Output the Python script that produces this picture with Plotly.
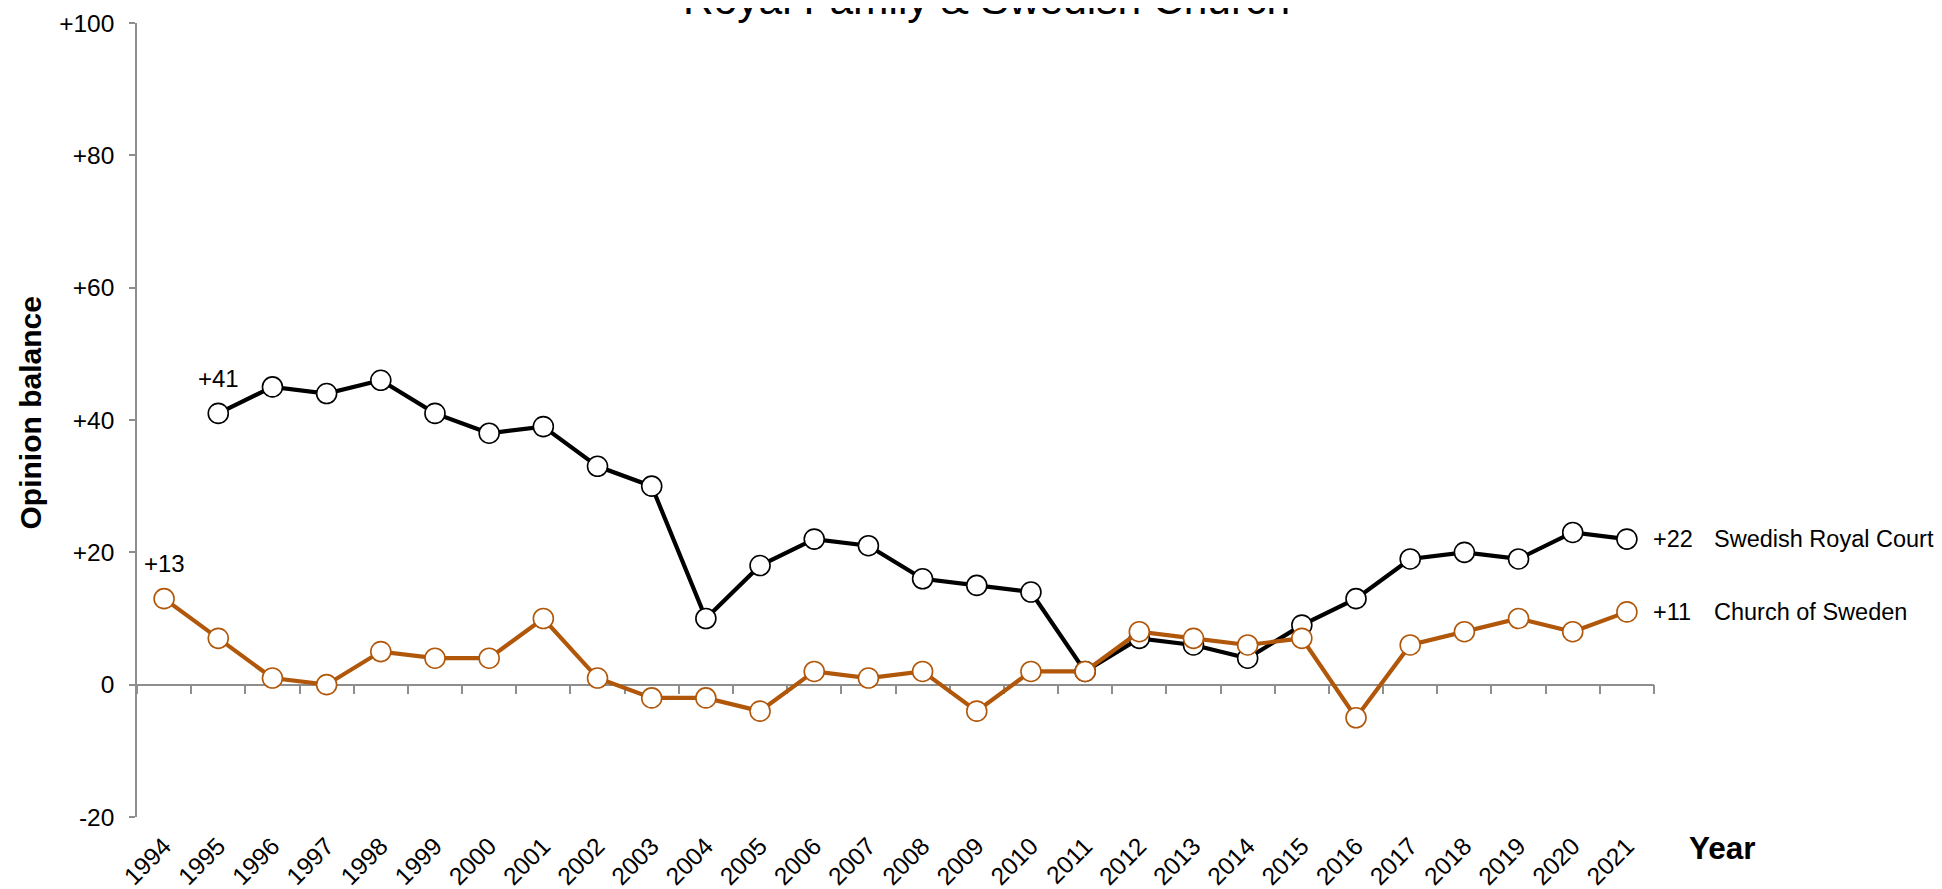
import plotly.graph_objects as go

# ---- data ----
years = [str(y) for y in range(1994, 2022)]
royal_years = [str(y) for y in range(1995, 2022)]
royal_court = [41, 45, 44, 46, 41, 38, 39, 33, 30, 10, 18, 22, 21, 16, 15, 14,
               2, 7, 6, 4, 9, 13, 19, 20, 19, 23, 22]
church_years = years
church = [13, 7, 1, 0, 5, 4, 4, 10, 1, -2, -2, -4, 2, 1, 2, -4, 2, 2,
          8, 7, 6, 7, -5, 6, 8, 10, 8, 11]
y_tickvals = [-20, 0, 20, 40, 60, 80, 100]
y_ticktext = ["-20", "0", "+20", "+40", "+60", "+80", "+100"]
series_names = ["Swedish Royal Court", "Church of Sweden"]
title_text = "Royal Family & Swedish Church"

BLACK = "#000000"
ORANGE = "#B1570A"
GRAY = "#8E8E8E"
FONT = "Arial, Liberation Sans, sans-serif"

def fmt(v):
    return f"+{v}" if v > 0 else str(v)

fig = go.Figure()

# invisible helper trace for the zero-line axis (category registration)
fig.add_trace(go.Scatter(x=years, y=church, xaxis="x2", mode="lines",
                         line=dict(width=0, color="rgba(0,0,0,0)"),
                         hoverinfo="skip", showlegend=False))

fig.add_trace(go.Scatter(
    x=royal_years, y=royal_court, mode="lines+markers", name=series_names[0],
    line=dict(color=BLACK, width=4.2),
    marker=dict(symbol="circle", size=20, color="white",
                line=dict(color=BLACK, width=1.6)),
    showlegend=False))

fig.add_trace(go.Scatter(
    x=church_years, y=church, mode="lines+markers", name=series_names[1],
    line=dict(color=ORANGE, width=4.2),
    marker=dict(symbol="circle", size=20, color="white",
                line=dict(color=ORANGE, width=1.6)),
    showlegend=False))

annotations = []
# first-point labels
for xs, ys in [(royal_years, royal_court), (church_years, church)]:
    annotations.append(dict(x=years.index(xs[0]), y=ys[0], xref="x", yref="y",
                            text=fmt(ys[0]), showarrow=False, yshift=35,
                            font=dict(family=FONT, size=24, color="black")))
# end labels
for xs, ys, nm in [(royal_years, royal_court, series_names[0]),
                   (church_years, church, series_names[1])]:
    xi = years.index(xs[-1])
    annotations.append(dict(x=xi, y=ys[-1], xref="x", yref="y", text=fmt(ys[-1]),
                            showarrow=False, xanchor="left", xshift=24,
                            font=dict(family=FONT, size=23.5, color="black")))
    annotations.append(dict(x=xi, y=ys[-1], xref="x", yref="y", text=nm,
                            showarrow=False, xanchor="left", xshift=85,
                            font=dict(family=FONT, size=23.5, color="black")))
# title
annotations.append(dict(x=0.5603, y=1.029, xref="paper", yref="paper", text=title_text,
                        showarrow=False, xanchor="center", yanchor="middle",
                        font=dict(family=FONT, size=42.5, color="black")))
# axis titles
annotations.append(dict(x=-0.0699, y=0.5094, xref="paper", yref="paper",
                        text="<b>Opinion balance</b>", textangle=-90, showarrow=False,
                        xanchor="center", yanchor="middle",
                        font=dict(family=FONT, size=30, color="black")))
annotations.append(dict(x=1.022, y=-0.039, xref="paper", yref="paper",
                        text="<b>Year</b>", showarrow=False,
                        xanchor="left", yanchor="middle",
                        font=dict(family=FONT, size=31.5, color="black")))

fig.update_layout(
    width=1934, height=881,
    margin=dict(l=129, r=288, t=15, b=72, autoexpand=False),
    paper_bgcolor="white", plot_bgcolor="white",
    font=dict(family=FONT, color="black"),
    showlegend=False,
    annotations=annotations,
    xaxis=dict(type="category", categoryorder="array", categoryarray=years,
               range=[-0.5, len(years) - 0.5], automargin=False,
               showline=False, showgrid=False, zeroline=False, ticks="",
               tickangle=-45, tickfont=dict(family=FONT, size=24.5, color="black"),
               ticklabelstandoff=9),
    xaxis2=dict(type="category", categoryorder="array", categoryarray=years,
                overlaying="x", anchor="free", position=(0 - (-20)) / 120,
                range=[-0.5, len(years) - 0.5], matches="x", automargin=False,
                showline=True, linecolor=GRAY, linewidth=1.5,
                ticks="outside", tickson="boundaries", ticklen=9, tickcolor=GRAY,
                tickwidth=1.5, showticklabels=False, showgrid=False, zeroline=False,
                layer="below traces"),
    yaxis=dict(range=[-20, 100], tickvals=y_tickvals, ticktext=y_ticktext,
               showline=True, linecolor=GRAY, linewidth=1.5, automargin=False,
               ticks="outside", ticklen=6, tickcolor=GRAY, tickwidth=1.5,
               showgrid=False, zeroline=False,
               tickfont=dict(family=FONT, size=24.5, color="black"),
               ticklabelstandoff=10),
)

fig.write_html("out.html")
